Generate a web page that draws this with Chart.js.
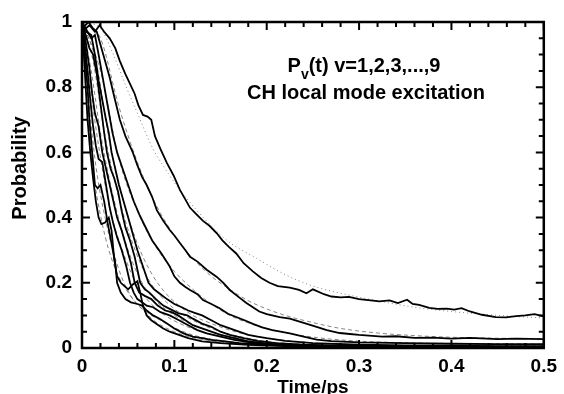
<!DOCTYPE html>
<html>
<head>
<meta charset="utf-8">
<script src="https://cdn.jsdelivr.net/npm/chart.js@4"></script>
<style>
  html, body { margin: 0; padding: 0; background: #fff; }
  #wrap { width: 564px; height: 394px; }
</style>
</head>
<body>
<div id="wrap"><canvas id="decayChart"></canvas></div>
<script>
// P_v(t) curves, [time/ps, probability]
const v1 = [[0,0.97],[0.008,0.99],[0.014,0.97],[0.019,0.99],[0.024,0.97],[0.03,0.95],[0.036,0.92],[0.041,0.88],[0.047,0.84],[0.052,0.81],[0.057,0.78],[0.061,0.745],[0.066,0.715],[0.071,0.71],[0.075,0.70],[0.079,0.65],[0.085,0.61],[0.092,0.567],[0.099,0.53],[0.106,0.485],[0.112,0.455],[0.117,0.43],[0.124,0.41],[0.131,0.39],[0.138,0.375],[0.146,0.352],[0.152,0.33],[0.159,0.31],[0.167,0.29],[0.175,0.26],[0.185,0.235],[0.194,0.215],[0.203,0.2],[0.212,0.19],[0.225,0.185],[0.235,0.178],[0.243,0.168],[0.25,0.18],[0.262,0.165],[0.27,0.158],[0.28,0.155],[0.289,0.157],[0.3,0.15],[0.31,0.147],[0.322,0.143],[0.333,0.146],[0.342,0.138],[0.352,0.148],[0.358,0.135],[0.365,0.132],[0.376,0.123],[0.385,0.12],[0.395,0.121],[0.403,0.118],[0.411,0.122],[0.42,0.112],[0.433,0.102],[0.448,0.095],[0.459,0.094],[0.47,0.098],[0.48,0.1],[0.49,0.104],[0.5,0.097]];
const v2 = [[0,0.98],[0.007,1.0],[0.012,0.98],[0.016,0.97],[0.02,0.93],[0.025,0.88],[0.03,0.83],[0.035,0.77],[0.041,0.7],[0.047,0.65],[0.055,0.6],[0.06,0.56],[0.065,0.525],[0.07,0.5],[0.076,0.463],[0.081,0.423],[0.088,0.39],[0.095,0.362],[0.1,0.345],[0.106,0.322],[0.112,0.3],[0.117,0.28],[0.125,0.265],[0.135,0.24],[0.146,0.218],[0.153,0.2],[0.16,0.178],[0.168,0.16],[0.178,0.138],[0.185,0.125],[0.192,0.112],[0.2,0.104],[0.214,0.095],[0.225,0.09],[0.24,0.077],[0.254,0.065],[0.265,0.055],[0.279,0.046],[0.29,0.043],[0.3,0.04],[0.325,0.035],[0.34,0.036],[0.36,0.031],[0.38,0.032],[0.4,0.029],[0.42,0.031],[0.45,0.027],[0.47,0.029],[0.5,0.027]];
const v3 = [[0,1],[0.006,0.97],[0.01,0.95],[0.014,0.96],[0.018,0.9],[0.023,0.82],[0.028,0.74],[0.033,0.66],[0.038,0.6],[0.044,0.55],[0.05,0.5],[0.056,0.45],[0.062,0.41],[0.068,0.375],[0.076,0.33],[0.086,0.29],[0.095,0.25],[0.1,0.22],[0.106,0.2],[0.112,0.187],[0.117,0.178],[0.125,0.165],[0.131,0.147],[0.14,0.135],[0.149,0.122],[0.158,0.105],[0.167,0.095],[0.176,0.085],[0.185,0.074],[0.195,0.063],[0.206,0.055],[0.215,0.05],[0.225,0.045],[0.24,0.035],[0.254,0.026],[0.27,0.021],[0.3,0.017],[0.35,0.015],[0.4,0.013],[0.45,0.012],[0.5,0.012]];
const v4 = [[0,1],[0.005,0.97],[0.01,0.96],[0.014,0.9],[0.018,0.82],[0.022,0.76],[0.026,0.7],[0.029,0.66],[0.032,0.6],[0.036,0.55],[0.04,0.5],[0.045,0.45],[0.05,0.4],[0.055,0.35],[0.06,0.3],[0.066,0.25],[0.072,0.2],[0.078,0.18],[0.085,0.165],[0.092,0.15],[0.1,0.135],[0.108,0.125],[0.115,0.115],[0.122,0.108],[0.13,0.1],[0.14,0.085],[0.15,0.07],[0.16,0.06],[0.17,0.05],[0.18,0.04],[0.19,0.035],[0.2,0.03],[0.22,0.022],[0.25,0.015],[0.3,0.01],[0.35,0.008],[0.4,0.007],[0.45,0.006],[0.5,0.006]];
const v5 = [[0,1],[0.004,0.96],[0.008,0.92],[0.012,0.9],[0.016,0.84],[0.02,0.75],[0.024,0.66],[0.027,0.6],[0.031,0.55],[0.035,0.52],[0.039,0.48],[0.043,0.42],[0.047,0.37],[0.052,0.33],[0.057,0.28],[0.063,0.2],[0.068,0.18],[0.073,0.17],[0.08,0.15],[0.088,0.13],[0.095,0.12],[0.104,0.107],[0.114,0.1],[0.12,0.09],[0.13,0.075],[0.14,0.065],[0.15,0.05],[0.16,0.04],[0.175,0.03],[0.19,0.022],[0.21,0.015],[0.24,0.01],[0.3,0.006],[0.4,0.004],[0.5,0.004]];
const v6 = [[0,1],[0.004,0.94],[0.008,0.86],[0.011,0.78],[0.014,0.72],[0.018,0.68],[0.022,0.6],[0.026,0.55],[0.03,0.5],[0.034,0.45],[0.038,0.4],[0.043,0.36],[0.048,0.31],[0.053,0.26],[0.057,0.2],[0.062,0.17],[0.068,0.16],[0.075,0.15],[0.082,0.13],[0.09,0.115],[0.097,0.11],[0.104,0.1],[0.112,0.085],[0.12,0.07],[0.13,0.06],[0.14,0.05],[0.15,0.04],[0.165,0.03],[0.18,0.02],[0.2,0.013],[0.23,0.008],[0.3,0.005],[0.4,0.003],[0.5,0.003]];
const v7 = [[0,1],[0.003,0.93],[0.006,0.85],[0.009,0.76],[0.012,0.68],[0.015,0.62],[0.018,0.58],[0.022,0.57],[0.026,0.5],[0.03,0.43],[0.034,0.38],[0.038,0.34],[0.043,0.3],[0.048,0.25],[0.052,0.2],[0.056,0.17],[0.06,0.15],[0.065,0.14],[0.07,0.13],[0.077,0.125],[0.085,0.11],[0.095,0.1],[0.105,0.085],[0.115,0.07],[0.125,0.055],[0.135,0.045],[0.15,0.035],[0.165,0.025],[0.18,0.018],[0.2,0.012],[0.25,0.006],[0.3,0.004],[0.5,0.002]];
const v8 = [[0,1],[0.003,0.9],[0.006,0.8],[0.008,0.7],[0.011,0.6],[0.014,0.5],[0.017,0.49],[0.02,0.5],[0.024,0.45],[0.028,0.38],[0.032,0.32],[0.036,0.26],[0.038,0.2],[0.042,0.17],[0.047,0.15],[0.053,0.14],[0.06,0.135],[0.065,0.13],[0.07,0.115],[0.077,0.1],[0.084,0.09],[0.092,0.075],[0.1,0.06],[0.11,0.045],[0.12,0.035],[0.13,0.03],[0.14,0.025],[0.155,0.02],[0.17,0.015],[0.2,0.01],[0.25,0.005],[0.3,0.003],[0.5,0.002]];
const v9 = [[0,1],[0.003,0.85],[0.006,0.7],[0.009,0.6],[0.012,0.52],[0.015,0.45],[0.018,0.4],[0.021,0.38],[0.025,0.385],[0.029,0.4],[0.032,0.36],[0.035,0.27],[0.038,0.22],[0.042,0.2],[0.046,0.19],[0.05,0.18],[0.055,0.195],[0.06,0.205],[0.063,0.17],[0.066,0.13],[0.07,0.1],[0.075,0.085],[0.08,0.075],[0.088,0.06],[0.095,0.05],[0.105,0.04],[0.115,0.03],[0.13,0.02],[0.15,0.015],[0.18,0.01],[0.22,0.006],[0.3,0.003],[0.5,0.002]];

// fitted curves (thin dotted / dashed)
const fit1 = [[0,1],[0.02,0.98],[0.034,0.9],[0.048,0.8],[0.06,0.72],[0.077,0.61],[0.09,0.55],[0.102,0.5],[0.125,0.42],[0.157,0.33],[0.189,0.275],[0.22,0.225],[0.25,0.19],[0.28,0.168],[0.32,0.145],[0.36,0.125],[0.4,0.112],[0.45,0.1],[0.5,0.092]];
const fit2 = [[0,1],[0.02,0.95],[0.04,0.74],[0.06,0.57],[0.08,0.44],[0.1,0.345],[0.12,0.275],[0.14,0.22],[0.16,0.18],[0.18,0.145],[0.2,0.12],[0.22,0.1],[0.25,0.078],[0.28,0.06],[0.32,0.046],[0.36,0.038],[0.4,0.033],[0.45,0.03],[0.5,0.028]];
const fit3 = [[0,1],[0.02,0.85],[0.04,0.58],[0.06,0.42],[0.08,0.31],[0.1,0.235],[0.12,0.18],[0.14,0.135],[0.16,0.1],[0.18,0.077],[0.2,0.06],[0.23,0.042],[0.26,0.03],[0.3,0.021],[0.35,0.016],[0.4,0.014],[0.5,0.012]];
const fit4 = [[0,1],[0.015,0.88],[0.03,0.63],[0.045,0.45],[0.06,0.32],[0.075,0.23],[0.09,0.17],[0.105,0.13],[0.12,0.1],[0.14,0.075],[0.16,0.055],[0.18,0.04],[0.2,0.03],[0.25,0.016],[0.3,0.01],[0.4,0.007],[0.5,0.006]];
const fit5 = [[0,1],[0.012,0.88],[0.025,0.65],[0.04,0.46],[0.055,0.32],[0.07,0.22],[0.085,0.16],[0.1,0.12],[0.12,0.085],[0.14,0.06],[0.16,0.042],[0.18,0.03],[0.2,0.02],[0.25,0.01],[0.3,0.006],[0.5,0.004]];
const fit6 = [[0,1],[0.01,0.85],[0.02,0.66],[0.035,0.45],[0.05,0.3],[0.065,0.2],[0.08,0.145],[0.1,0.1],[0.12,0.07],[0.14,0.05],[0.16,0.035],[0.18,0.024],[0.2,0.016],[0.25,0.008],[0.3,0.005],[0.5,0.003]];
const fit7 = [[0,1],[0.008,0.82],[0.018,0.62],[0.03,0.43],[0.045,0.29],[0.06,0.19],[0.075,0.135],[0.09,0.1],[0.11,0.07],[0.13,0.05],[0.15,0.035],[0.17,0.024],[0.2,0.013],[0.25,0.006],[0.3,0.004],[0.5,0.002]];
const fit8 = [[0,1],[0.006,0.8],[0.014,0.58],[0.025,0.4],[0.04,0.24],[0.055,0.15],[0.07,0.11],[0.085,0.085],[0.1,0.062],[0.12,0.04],[0.14,0.027],[0.16,0.019],[0.2,0.01],[0.25,0.005],[0.3,0.003],[0.5,0.002]];
const fit9 = [[0,1],[0.005,0.78],[0.012,0.55],[0.022,0.38],[0.035,0.25],[0.05,0.17],[0.065,0.12],[0.08,0.08],[0.1,0.05],[0.12,0.032],[0.14,0.022],[0.17,0.013],[0.2,0.008],[0.3,0.003],[0.5,0.002]];

const curves = [v1, v2, v3, v4, v5, v6, v7, v8, v9];
const fits = [fit1, fit2, fit3, fit4, fit5, fit6, fit7, fit8, fit9];

const xTicks = [0, 0.1, 0.2, 0.3, 0.4, 0.5];
const yTicks = [0, 0.2, 0.4, 0.6, 0.8, 1];

const FONT = '"Liberation Sans", Arial, sans-serif';
const toXY = arr => arr.map(p => ({ x: p[0], y: p[1] }));

const datasets = [];
curves.forEach((c, i) => {
    datasets.push({
        label: 'v=' + (i + 1),
        data: toXY(c),
        borderColor: '#000',
        borderWidth: 1.8,
        pointRadius: 0,
        order: 0
    });
});
fits.forEach((f, i) => {
    datasets.push({
        label: 'fit v=' + (i + 1),
        data: toXY(f),
        borderColor: '#666',
        borderWidth: 0.8,
        borderDash: i === 0 ? [1, 3] : [4, 3],
        pointRadius: 0,
        cubicInterpolationMode: 'monotone',
        order: 1
    });
});

// frame, inward ticks on all sides, y title and the annotation
const framePlugin = {
    id: 'frame',
    afterDatasetsDraw(chart) {
        const { ctx, chartArea: a, scales } = chart;
        const xs = scales.x, ys = scales.y;
        ctx.save();
        ctx.strokeStyle = '#000';
        ctx.lineWidth = 2;
        ctx.beginPath();
        for (let i = 0; i <= 25; i++) {
            const v = i * 0.02;
            const px = xs.getPixelForValue(v);
            const len = i % 5 === 0 ? 8 : 5;
            ctx.moveTo(px, a.bottom); ctx.lineTo(px, a.bottom - len);
            ctx.moveTo(px, a.top); ctx.lineTo(px, a.top + len);
        }
        for (let i = 0; i <= 20; i++) {
            const v = i * 0.05;
            const py = ys.getPixelForValue(v);
            const len = i % 4 === 0 ? 8 : 5;
            ctx.moveTo(a.left, py); ctx.lineTo(a.left + len, py);
            ctx.moveTo(a.right, py); ctx.lineTo(a.right - len, py);
        }
        ctx.stroke();
        ctx.lineWidth = 2.5;
        ctx.strokeRect(a.left, a.top, a.right - a.left, a.bottom - a.top);

        // y axis title
        ctx.fillStyle = '#000';
        ctx.font = 'bold 20px ' + FONT;
        ctx.textAlign = 'center';
        ctx.textBaseline = 'middle';
        ctx.translate(20, 168);
        ctx.rotate(-Math.PI / 2);
        ctx.fillText('Probability', 0, 0);
        ctx.restore();

        // annotation
        ctx.save();
        ctx.fillStyle = '#000';
        ctx.textBaseline = 'alphabetic';
        ctx.textAlign = 'left';
        ctx.font = 'bold 20px ' + FONT;
        const p1 = 'P', p2 = 'v', p3 = '(t) v=1,2,3,...,9';
        const w1 = ctx.measureText(p1).width;
        ctx.font = 'bold 14px ' + FONT;
        const w2 = ctx.measureText(p2).width;
        ctx.font = 'bold 20px ' + FONT;
        const w3 = ctx.measureText(p3).width;
        const x0 = 364 - (w1 + w2 + w3) / 2;
        ctx.fillText(p1, x0, 72);
        ctx.font = 'bold 14px ' + FONT;
        ctx.fillText(p2, x0 + w1, 79);
        ctx.font = 'bold 20px ' + FONT;
        ctx.fillText(p3, x0 + w1 + w2, 72);
        ctx.textAlign = 'center';
        ctx.fillText('CH local mode excitation', 366, 99);
        ctx.restore();
    }
};

const tickFmt = v => (v === 0 ? '0' : v === 1 ? '1' : v.toFixed(1));

new Chart(document.getElementById('decayChart').getContext('2d'), {
    type: 'line',
    data: { datasets: datasets },
    options: {
        responsive: true,
        maintainAspectRatio: false,
        animation: false,
        events: [],
        layout: { padding: { top: 22, right: 19, left: 0, bottom: 0 } },
        elements: { line: { tension: 0, fill: false } },
        plugins: {
            legend: { display: false },
            tooltip: { enabled: false }
        },
        scales: {
            x: {
                type: 'linear',
                min: 0,
                max: 0.5,
                afterFit(s) { s.height = 46; },
                afterBuildTicks(s) { s.ticks = xTicks.map(v => ({ value: v })); },
                grid: { display: false, drawTicks: false },
                border: { display: false },
                ticks: {
                    padding: 7,
                    color: '#000',
                    font: { family: FONT, size: 19, weight: 'bold' },
                    maxRotation: 0,
                    callback: tickFmt
                },
                title: {
                    display: true,
                    text: 'Time/ps',
                    color: '#000',
                    font: { family: FONT, size: 19, weight: 'bold' },
                    padding: { top: 0, bottom: -5 }
                }
            },
            y: {
                type: 'linear',
                min: 0,
                max: 1,
                afterFit(s) { s.width = 82; },
                afterBuildTicks(s) { s.ticks = yTicks.map(v => ({ value: v })); },
                grid: { display: false, drawTicks: false },
                border: { display: false },
                ticks: {
                    padding: 10,
                    color: '#000',
                    font: { family: FONT, size: 19, weight: 'bold' },
                    callback: tickFmt
                }
            }
        }
    },
    plugins: [framePlugin]
});
</script>
</body>
</html>
